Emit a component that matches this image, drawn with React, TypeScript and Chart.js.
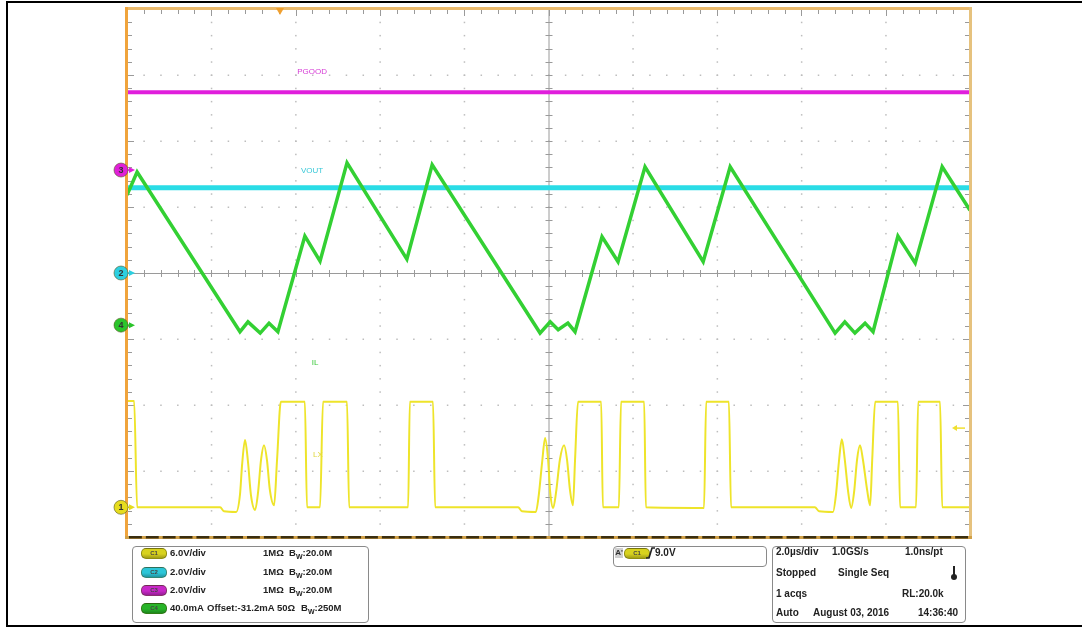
import React, { useEffect, useRef } from 'react';
import { Chart, registerables } from 'chart.js';
Chart.register(...registerables);

// ---- Data (time in µs, 2.0 µs/div; level in screen divisions, 0 = centre) ----
const timeRange = [0, 20];
const levelRange = [-4, 4];

const pgoodTime = [0, 20];
const pgoodLevel = [2.74, 2.74];

const voutTime = [0, 20];
const voutLevel = [1.29, 1.29];

const ilTime = [0, 0.24, 2.68, 2.87, 3.16, 3.37, 3.58, 4.22, 4.58, 5.22, 6.64, 7.24, 9.8, 10.04, 10.23, 10.46, 10.63, 11.27, 11.65, 12.29, 13.67, 14.31, 16.8, 17.03, 17.27, 17.51, 17.7, 18.29, 18.7, 19.34, 20];
const ilLevel = [1.18, 1.53, -0.89, -0.74, -0.91, -0.76, -0.89, 0.56, 0.18, 1.67, 0.21, 1.64, -0.91, -0.74, -0.86, -0.76, -0.89, 0.55, 0.17, 1.61, 0.17, 1.61, -0.91, -0.74, -0.91, -0.76, -0.89, 0.56, 0.15, 1.61, 0.95];

const lxTime = [
  0, 0.17, 0.24, 2.21, 2.3,
  2.59, 2.68, 2.73, 2.8, 2.87, 2.94, 3.04, 3.11, 3.18, 3.25, 3.32, 3.39, 3.49, 3.56, 3.65,
  4.22, 4.27, 4.58, 4.65, 5.22, 5.27, 6.67, 6.71, 7.26, 7.31, 9.28, 9.37,
  9.7, 9.77, 9.85, 9.92, 9.99, 10.04, 10.11, 10.18, 10.27, 10.37, 10.44, 10.51, 10.58, 10.63, 10.7,
  11.25, 11.29, 11.67, 11.72, 12.27, 12.31, 13.69, 13.74, 14.28, 14.33, 16.32, 16.42,
  16.75, 16.82, 16.89, 16.96, 17.03, 17.11, 17.18, 17.25, 17.32, 17.39, 17.46, 17.56, 17.63, 17.68, 17.75,
  18.29, 18.34, 18.72, 18.77, 19.29, 19.34, 20,
];
const lxLevel = [
  -1.94, -1.94, -3.55, -3.55, -3.61,
  -3.62, -3.36, -2.91, -2.53, -2.86, -3.36, -3.59, -3.32, -2.83, -2.61, -2.83, -3.29, -3.52, -2.83, -1.95,
  -1.95, -3.55, -3.55, -1.95, -1.95, -3.55, -3.55, -1.95, -1.95, -3.55, -3.55, -3.61,
  -3.62, -3.36, -2.86, -2.5, -2.83, -3.32, -3.56, -3.32, -2.83, -2.61, -2.83, -3.29, -3.52, -2.83, -1.95,
  -1.95, -3.55, -3.55, -1.95, -1.95, -3.55, -3.56, -1.95, -1.95, -3.55, -3.55, -3.61,
  -3.62, -3.36, -2.86, -2.52, -2.83, -3.32, -3.56, -3.32, -2.83, -2.61, -2.83, -3.29, -3.52, -2.83, -1.95,
  -1.95, -3.55, -3.55, -1.95, -1.95, -3.55, -3.55,
];

const markerChannels = ['1', '2', '3', '4'];
const markerLevels = [-3.55, 0, 1.56, -0.79];
const markerColors = ['#E6DC1E', '#2CCFE0', '#E020D8', '#2BC42B'];

const traceLabels = ['PGOOD', 'VOUT', 'IL', 'LX'];
const traceLabelTime = [4.39, 4.39, 4.46, 4.53];
const traceLabelLevel = [3.05, 1.55, -1.36, -2.76];
const traceLabelColors = ['#D63CD6', '#38C8D8', '#3CC83C', '#E0D840'];

const triggerTime = 3.63;
const triggerLevel = -2.35;

const toPoints = (t: number[], v: number[]) => t.map((x, i) => ({ x, y: v[i] }));

const scopePlugin = {
  id: 'scopeGrid',
  beforeDatasetsDraw(chart: any) {
    const { ctx, chartArea } = chart;
    const { left, right, top, bottom } = chartArea;
    const w = right - left;
    const h = bottom - top;
    const dx = w / 10;
    const dy = h / 8;
    const mdx = dx / 5;
    const mdy = dy / 5;
    ctx.save();
    ctx.fillStyle = '#ffffff';
    ctx.fillRect(left, top, w, h);
    // dotted graticule
    ctx.fillStyle = '#bdbdbd';
    for (let i = 1; i < 10; i++) {
      if (i === 5) continue;
      const x = left + i * dx;
      for (let j = 1; j < 40; j++) ctx.fillRect(x - 0.5, top + j * mdy - 0.5, 1.5, 1.5);
    }
    for (let j = 1; j < 8; j++) {
      if (j === 4) continue;
      const y = top + j * dy;
      for (let i = 1; i < 50; i++) ctx.fillRect(left + i * mdx - 0.5, y - 0.5, 1.5, 1.5);
    }
    // centre cross with ticks
    const cx = left + 5 * dx;
    const cy = top + 4 * dy;
    ctx.strokeStyle = '#a0a0a0';
    ctx.lineWidth = 1;
    ctx.beginPath();
    ctx.moveTo(left, cy + 0.5);
    ctx.lineTo(right, cy + 0.5);
    ctx.moveTo(cx + 0.5, top);
    ctx.lineTo(cx + 0.5, bottom);
    for (let i = 1; i < 50; i++) {
      const x = Math.round(left + i * mdx) + 0.5;
      ctx.moveTo(x, cy - 3);
      ctx.lineTo(x, cy + 4);
    }
    for (let j = 1; j < 40; j++) {
      const y = Math.round(top + j * mdy) + 0.5;
      ctx.moveTo(cx - 3, y);
      ctx.lineTo(cx + 4, y);
    }
    // edge ticks
    ctx.strokeStyle = '#9a9a9a';
    for (let i = 1; i < 50; i++) {
      const x = Math.round(left + i * mdx) + 0.5;
      const len = i % 5 === 0 ? 7 : 5;
      ctx.moveTo(x, top);
      ctx.lineTo(x, top + len);
    }
    for (let j = 1; j < 40; j++) {
      const y = Math.round(top + j * mdy) + 0.5;
      const len = j % 5 === 0 ? 7 : 5;
      ctx.moveTo(left, y);
      ctx.lineTo(left + len, y);
      ctx.moveTo(right, y);
      ctx.lineTo(right - len, y);
    }
    ctx.stroke();
    ctx.restore();
  },
  afterDatasetsDraw(chart: any) {
    const { ctx, chartArea, scales } = chart;
    const { left, right, top, bottom } = chartArea;
    const w = right - left;
    const h = bottom - top;
    const mdx = w / 50;
    ctx.save();
    // frame
    ctx.fillStyle = '#EBBB6E';
    ctx.fillRect(left - 2, top - 2, w + 4, 3);
    ctx.fillStyle = '#F0A43C';
    ctx.fillRect(left - 2, top - 2, 3, h + 4);
    ctx.fillStyle = '#E6C27E';
    ctx.fillRect(right - 1, top - 2, 3, h + 4);
    ctx.fillStyle = '#D0A048';
    ctx.fillRect(left - 2, bottom - 1, w + 4, 3);
    ctx.fillStyle = '#3a2e10';
    for (let i = 0; i < 50; i++) {
      ctx.fillRect(left + i * mdx + 2, bottom - 1, mdx - 4, 2.5);
    }
    // trigger position marker
    const tx = scales.x.getPixelForValue(triggerTime);
    ctx.fillStyle = '#F0A030';
    ctx.beginPath();
    ctx.moveTo(tx - 4, top - 1);
    ctx.lineTo(tx + 4, top - 1);
    ctx.lineTo(tx, top + 6);
    ctx.closePath();
    ctx.fill();
    // trigger level arrow (right edge)
    const ty = scales.y.getPixelForValue(triggerLevel);
    ctx.strokeStyle = '#F0E030';
    ctx.fillStyle = '#F0E030';
    ctx.lineWidth = 1.5;
    ctx.beginPath();
    ctx.moveTo(right - 5, ty);
    ctx.lineTo(right - 14, ty);
    ctx.stroke();
    ctx.beginPath();
    ctx.moveTo(right - 18, ty);
    ctx.lineTo(right - 13, ty - 3);
    ctx.lineTo(right - 13, ty + 3);
    ctx.closePath();
    ctx.fill();
    // channel markers
    markerChannels.forEach((label, i) => {
      const y = scales.y.getPixelForValue(markerLevels[i]);
      const x = left - 6;
      ctx.fillStyle = markerColors[i];
      ctx.beginPath();
      ctx.moveTo(left + 2, y - 3);
      ctx.lineTo(left + 8, y);
      ctx.lineTo(left + 2, y + 3);
      ctx.closePath();
      ctx.fill();
      ctx.fillRect(left, y - 0.75, 4, 1.5);
      ctx.beginPath();
      ctx.arc(x, y, 7, 0, Math.PI * 2);
      ctx.fill();
      ctx.lineWidth = 1;
      ctx.strokeStyle = 'rgba(90,90,40,0.6)';
      ctx.stroke();
      ctx.fillStyle = '#333';
      ctx.font = 'bold 9px "Liberation Sans", Arial, sans-serif';
      ctx.textAlign = 'center';
      ctx.textBaseline = 'middle';
      ctx.fillText(label, x, y + 0.5);
    });
    // trace labels
    ctx.font = '8px "Liberation Sans", Arial, sans-serif';
    ctx.textAlign = 'center';
    ctx.textBaseline = 'middle';
    traceLabels.forEach((label, i) => {
      ctx.fillStyle = traceLabelColors[i];
      ctx.fillText(label, scales.x.getPixelForValue(traceLabelTime[i]), scales.y.getPixelForValue(traceLabelLevel[i]));
    });
    ctx.restore();
  },
};

const panelFont: React.CSSProperties = {
  position: 'absolute',
  fontFamily: '"Liberation Sans", Arial, sans-serif',
  fontWeight: 'bold',
  lineHeight: '12px',
  color: '#222',
  whiteSpace: 'nowrap',
};

function T({ x, y, s = 9.5, children }: { x: number; y: number; s?: number; children: React.ReactNode }) {
  return <div style={{ ...panelFont, fontSize: `${s}px`, left: x, top: y - 6 }}>{children}</div>;
}

function BW({ v }: { v: string }) {
  return (
    <span>
      B<sub style={{ fontSize: '7px', verticalAlign: 'sub', lineHeight: 0 }}>W</sub>:{v}
    </span>
  );
}

function Pill({ x, y, color, label }: { x: number; y: number; color: string; label: string }) {
  return (
    <div
      style={{
        position: 'absolute',
        left: x,
        top: y - 5,
        width: 24,
        height: 9,
        borderRadius: 5,
        background: `linear-gradient(${color}, ${color} 55%, rgba(0,0,0,0.25))`,
        backgroundColor: color,
        border: '1px solid rgba(60,60,0,0.45)',
        fontFamily: '"Liberation Sans", Arial, sans-serif',
        fontSize: '6px',
        lineHeight: '9px',
        textAlign: 'center',
        color: '#444',
        fontWeight: 'bold',
      }}
    >
      {label}
    </div>
  );
}

const boxStyle: React.CSSProperties = {
  position: 'absolute',
  border: '1px solid #8a8a8a',
  borderRadius: 4,
  boxSizing: 'border-box',
  background: '#fff',
};

export default function App() {
  const ref = useRef<HTMLCanvasElement>(null);
  useEffect(() => {
    const canvas = ref.current!;
    const chart = new Chart(canvas, {
      type: 'line',
      data: {
        datasets: [
          {
            label: 'IL',
            data: toPoints(ilTime, ilLevel),
            borderColor: '#33D033',
            borderWidth: 3.5,
            pointRadius: 0,
            tension: 0,
            order: 0,
          },
          {
            label: 'VOUT',
            data: toPoints(voutTime, voutLevel),
            borderColor: '#2ADCE6',
            borderWidth: 5,
            pointRadius: 0,
            order: 1,
          },
          {
            label: 'PGOOD',
            data: toPoints(pgoodTime, pgoodLevel),
            borderColor: '#E01EDC',
            borderWidth: 4,
            pointRadius: 0,
            order: 2,
          },
          {
            label: 'LX',
            data: toPoints(lxTime, lxLevel),
            borderColor: '#EEE42A',
            borderWidth: 2,
            pointRadius: 0,
            cubicInterpolationMode: 'monotone',
            order: 3,
          },
        ],
      },
      options: {
        animation: false,
        responsive: false,
        events: [],
        layout: { padding: { left: 127, right: 112, top: 9, bottom: 91 } },
        scales: {
          x: { type: 'linear', min: timeRange[0], max: timeRange[1], display: false },
          y: { type: 'linear', min: levelRange[0], max: levelRange[1], display: false },
        },
        plugins: { legend: { display: false }, tooltip: { enabled: false }, title: { display: false } },
      },
      plugins: [scopePlugin],
    } as any);
    return () => chart.destroy();
  }, []);

  return (
    <div style={{ position: 'absolute', left: 0, top: 0, width: 1082, height: 628, background: '#fff', overflow: 'hidden' }}>
      <canvas ref={ref} width={1082} height={628} style={{ position: 'absolute', left: 0, top: 0, width: 1082, height: 628 }} />
      <div style={{ position: 'absolute', left: 6, top: 1, width: 1076, height: 626, border: '2px solid #000', borderRight: 'none', boxSizing: 'border-box' }} />

      {/* channel settings box */}
      <div style={{ ...boxStyle, left: 132, top: 546, width: 237, height: 77 }} />
      <Pill x={141} y={553} color="#D8D21E" label="C1" />
      <Pill x={141} y={572} color="#2CC6D8" label="C2" />
      <Pill x={141} y={590} color="#C828C8" label="C3" />
      <Pill x={141} y={608} color="#28B428" label="C4" />
      <T x={170} y={553}>6.0V/div</T>
      <T x={170} y={572}>2.0V/div</T>
      <T x={170} y={590}>2.0V/div</T>
      <T x={170} y={608}>40.0mA</T>
      <T x={207} y={608}>Offset:-31.2mA</T>
      <T x={263} y={553}>1MΩ</T>
      <T x={263} y={572}>1MΩ</T>
      <T x={263} y={590}>1MΩ</T>
      <T x={277} y={608}>50Ω</T>
      <T x={289} y={553}><BW v="20.0M" /></T>
      <T x={289} y={572}><BW v="20.0M" /></T>
      <T x={289} y={590}><BW v="20.0M" /></T>
      <T x={301} y={608}><BW v="250M" /></T>

      {/* trigger box */}
      <div style={{ ...boxStyle, left: 613, top: 546, width: 154, height: 21 }} />
      <div style={{ position: 'absolute', left: 615, top: 548, width: 8, height: 10, background: '#cfcfcf', fontFamily: '"Liberation Sans", Arial, sans-serif', fontSize: '8px', lineHeight: '10px', fontWeight: 'bold', color: '#333', textAlign: 'center' }}>A'</div>
      <Pill x={624} y={553} color="#D8D21E" label="C1" />
      <svg style={{ position: 'absolute', left: 646, top: 547 }} width={9} height={12}>
        <polyline points="0,11 3,11 6,1 9,1" fill="none" stroke="#222" strokeWidth={1.6} />
      </svg>
      <T x={655} y={553} s={10}>9.0V</T>

      {/* timebase box */}
      <div style={{ ...boxStyle, left: 772, top: 546, width: 194, height: 77 }} />
      <T x={776} y={552} s={10}>2.0µs/div</T>
      <T x={832} y={552} s={10}>1.0GS/s</T>
      <T x={905} y={552} s={10}>1.0ns/pt</T>
      <T x={776} y={573} s={10}>Stopped</T>
      <T x={838} y={573} s={10}>Single Seq</T>
      <div style={{ position: 'absolute', left: 953, top: 566, width: 2, height: 10, background: '#222' }} />
      <div style={{ position: 'absolute', left: 951, top: 574, width: 6, height: 6, borderRadius: 3, background: '#222' }} />
      <T x={776} y={594} s={10}>1 acqs</T>
      <T x={902} y={594} s={10}>RL:20.0k</T>
      <T x={776} y={613} s={10}>Auto</T>
      <T x={813} y={613} s={10}>August 03, 2016</T>
      <T x={918} y={613} s={10}>14:36:40</T>
    </div>
  );
}
